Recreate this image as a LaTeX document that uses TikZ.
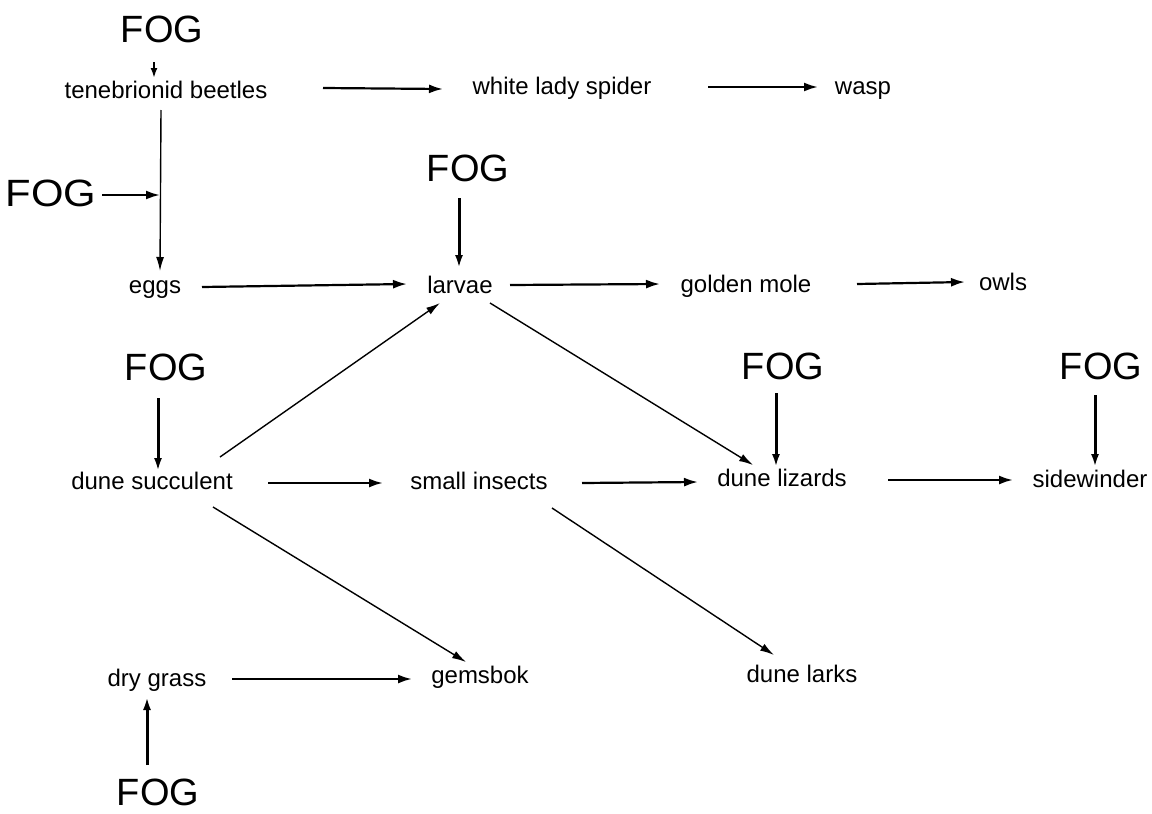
\documentclass[tikz,border=0pt]{standalone}
\usepackage{fontspec}
\setmainfont{Liberation Sans}
\usetikzlibrary{arrows.meta,calc}
\begin{document}
\begin{tikzpicture}[x=1pt,y=-1pt,
  lbl/.style={inner sep=0pt,anchor=center,font=\fontsize{24}{28}\selectfont,text height=12.5pt,text depth=0pt},
  fog/.style={inner sep=0pt,anchor=center,font=\fontsize{38}{44}\selectfont,text height=27.2pt,text depth=0pt},
  arr/.style={line width=2.2pt,-{Latex[length=14pt,width=9pt]}},
  fogarr/.style={line width=3pt,-{Latex[length=13pt,width=8pt]}},
  thinarr/.style={line width=1.4pt,-{Latex[length=14pt,width=8pt]}}]
\path[use as bounding box] (0,0) rectangle (1152,814);
% nodes
\node[fog] (fog1) at (162,29) {FOG};
\node[lbl] (beet) at (166,92) {tenebrionid beetles};
\node[lbl] (spider) at (562,88) {white lady spider};
\node[lbl] (wasp) at (863,88) {wasp};
\node[fog,xscale=1.1,transform shape] (fog2) at (51,193) {FOG};
\node[fog] (fog3) at (468,168) {FOG};
\node[lbl] (eggs) at (155,287) {eggs};
\node[lbl] (larvae) at (460,287) {larvae};
\node[lbl] (golden) at (746,286) {golden mole};
\node[lbl] (owls) at (1003,284) {owls};
\node[fog] (fog4) at (166,367) {FOG};
\node[fog] (fog5) at (783,366) {FOG};
\node[fog] (fog6) at (1101,366) {FOG};
\node[lbl] (succ) at (152,483) {dune succulent};
\node[lbl] (small) at (479,483) {small insects};
\node[lbl] (liz) at (782,480) {dune lizards};
\node[lbl] (side) at (1090,481) {sidewinder};
\node[lbl] (gems) at (480,677) {gemsbok};
\node[lbl] (larks) at (802,676) {dune larks};
\node[lbl] (dry) at (157,680) {dry grass};
\node[fog] (fog7) at (158,792) {FOG};
\coordinate (j) at (160,195);
% connectors
\draw[line width=2.2pt,-{Latex[length=10pt,width=7pt]}] ($(fog1)+(-8,33)$) -- ($(beet)+(-12,-14)$);
\draw[arr] ($(beet)+(157,-4)$) -- ($(spider)+(-119,1)$);
\draw[arr] ($(spider)+(146,-1)$) -- ($(wasp)+(-45,-1)$);
\draw[thinarr] ($(beet)+(-5,18)$) -- ($(eggs)+(5,-16)$);
\draw[arr] ($(fog2)+(51,2)$) -- (j);
\draw[fogarr] ($(fog3)+(-9,30)$) -- ($(larvae)+(-1,-19)$);
\draw[arr] ($(eggs)+(47,0)$) -- ($(larvae)+(-53,-3)$);
\draw[arr] ($(larvae)+(50,-2)$) -- ($(golden)+(-86,-2)$);
\draw[arr] ($(golden)+(111,-2)$) -- ($(owls)+(-38,-2)$);
\draw[fogarr] ($(fog4)+(-8,31)$) -- ($(succ)+(6,-12)$);
\draw[thinarr] ($(succ)+(68,-26)$) -- ($(larvae)+(-20,16)$);
\draw[arr] ($(succ)+(116,0)$) -- ($(small)+(-96,0)$);
\draw[thinarr] ($(succ)+(61,24)$) -- ($(gems)+(-14,-15)$);
\draw[thinarr] ($(larvae)+(30,16)$) -- ($(liz)+(-29,-15)$);
\draw[arr] ($(small)+(103,0)$) -- ($(liz)+(-84,2)$);
\draw[fogarr] ($(fog5)+(-7,27)$) -- ($(liz)+(-6,-13)$);
\draw[fogarr] ($(fog6)+(-6,29)$) -- ($(side)+(5,-14)$);
\draw[arr] ($(liz)+(106,0)$) -- ($(side)+(-77,-1)$);
\draw[thinarr] ($(small)+(73,25)$) -- ($(larks)+(-28,-21)$);
\draw[arr] ($(dry)+(75,-1)$) -- ($(gems)+(-68,2)$);
\draw[fogarr] ($(fog7)+(-11,-27)$) -- ($(dry)+(-10,17)$);
\end{tikzpicture}
\end{document}
